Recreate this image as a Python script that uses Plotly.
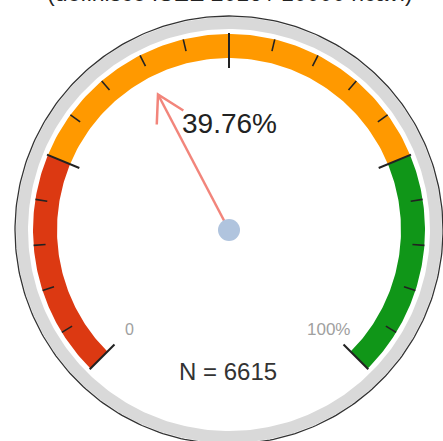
import numpy as np
import plotly.graph_objects as go

# ---- data ----
title_text = "(definisce ISEE 2016 / 10000 ricavi)"
value = 39.76
n_obs = 6615
band_edges = [0, 25, 75, 100]
band_colors = ["#DC3912", "#FF9900", "#109618"]
major_ticks = [0, 25, 50, 75, 100]
minor_ticks = [5, 10, 15, 20, 30, 35, 40, 45, 55, 60, 65, 70, 80, 85, 90, 95]
min_label = "0"
max_label = "100%"

# ---- geometry (pixel-like units) ----
W, H = 443, 441
cx, cy = 229, 230
vmin, vmax = 0, 100

def theta(v):
    return np.deg2rad(225 - 270 * (v - vmin) / (vmax - vmin))

def pt(v, r):
    t = theta(v)
    return cx + r * np.cos(t), cy - r * np.sin(t)

def circle(r, n=361):
    a = np.linspace(0, 2 * np.pi, n)
    return cx + r * np.cos(a), cy - r * np.sin(a)

fig = go.Figure()

# outer grey ring (annulus)
ox, oy = circle(213)
ix, iy = circle(201)
fig.add_trace(go.Scatter(x=np.concatenate([ox, ix[::-1]]), y=np.concatenate([oy, iy[::-1]]),
                         fill="toself", fillcolor="#D9D9D9", line=dict(width=0),
                         mode="lines", hoverinfo="skip", showlegend=False))
# outer dark outline
bx, by = circle(214)
fig.add_trace(go.Scatter(x=bx, y=by, mode="lines", line=dict(color="#333333", width=1.3),
                         hoverinfo="skip", showlegend=False))

# colored bands
r_in, r_out = 172, 196
for a, b, col in zip(band_edges[:-1], band_edges[1:], band_colors):
    vs = np.linspace(a, b, 100)
    xo, yo = pt(vs, r_out)
    xi, yi = pt(vs[::-1], r_in)
    fig.add_trace(go.Scatter(x=np.concatenate([xo, xi]), y=np.concatenate([yo, yi]),
                             fill="toself", fillcolor=col, line=dict(width=0),
                             mode="lines", hoverinfo="skip", showlegend=False))

# ticks
def tick_trace(vals, r1, r2, width):
    xs, ys = [], []
    for v in vals:
        x1, y1 = pt(v, r1)
        x2, y2 = pt(v, r2)
        xs += [x1, x2, None]
        ys += [y1, y2, None]
    return go.Scatter(x=xs, y=ys, mode="lines", line=dict(color="#222222", width=width),
                      hoverinfo="skip", showlegend=False)

fig.add_trace(tick_trace(minor_ticks, 184, 196, 1.6))
fig.add_trace(tick_trace(major_ticks, 162, 197, 2))

# needle
r_needle = 153
tx, ty = pt(value, r_needle)
t = theta(value)
back = t + np.pi
arm = 30
spread = np.deg2rad(30)
lx, ly = tx + arm * np.cos(back + spread), ty - arm * np.sin(back + spread)
rx, ry = tx + arm * np.cos(back - spread), ty - arm * np.sin(back - spread)
fig.add_trace(go.Scatter(x=[cx, tx, None, lx, tx, rx], y=[cy, ty, None, ly, ty, ry],
                         mode="lines", line=dict(color="#F2857B", width=2.5),
                         hoverinfo="skip", showlegend=False))
# hub
fig.add_trace(go.Scatter(x=[cx], y=[cy], mode="markers",
                         marker=dict(color="#B0C4DE", size=22, line=dict(width=0)),
                         hoverinfo="skip", showlegend=False))

# texts
font = "Liberation Sans, Arial, sans-serif"
l0x, l0y = pt(vmin, 141)
l1x, l1y = pt(vmax, 141)
annotations = [
    dict(x=cx, y=cy - 107, text=f"{value:.2f}%", showarrow=False,
         font=dict(family=font, size=28, color="#222222")),
    dict(x=cx - 1, y=cy + 141, text=f"N = {n_obs}", showarrow=False,
         font=dict(family=font, size=24, color="#333333")),
    dict(x=l0x, y=l0y, text=min_label, showarrow=False,
         font=dict(family=font, size=16, color="#A0A0A0")),
    dict(x=l1x, y=l1y, text=max_label, showarrow=False,
         font=dict(family=font, size=17, color="#A0A0A0")),
    dict(x=0.52, y=1, xref="paper", yref="paper", xanchor="center", yanchor="middle",
         yshift=7, text=title_text, showarrow=False,
         font=dict(family=font, size=23, color="#222222")),
]

fig.update_layout(
    width=W, height=H,
    margin=dict(l=0, r=0, t=0, b=0),
    paper_bgcolor="white", plot_bgcolor="white",
    xaxis=dict(range=[0, W], visible=False, fixedrange=True),
    yaxis=dict(range=[H, 0], visible=False, fixedrange=True),
    annotations=annotations,
    showlegend=False,
)

fig.write_html("out.html", config={"displayModeBar": False},
               post_script="document.body.style.margin='0';document.body.style.overflow='hidden';")
